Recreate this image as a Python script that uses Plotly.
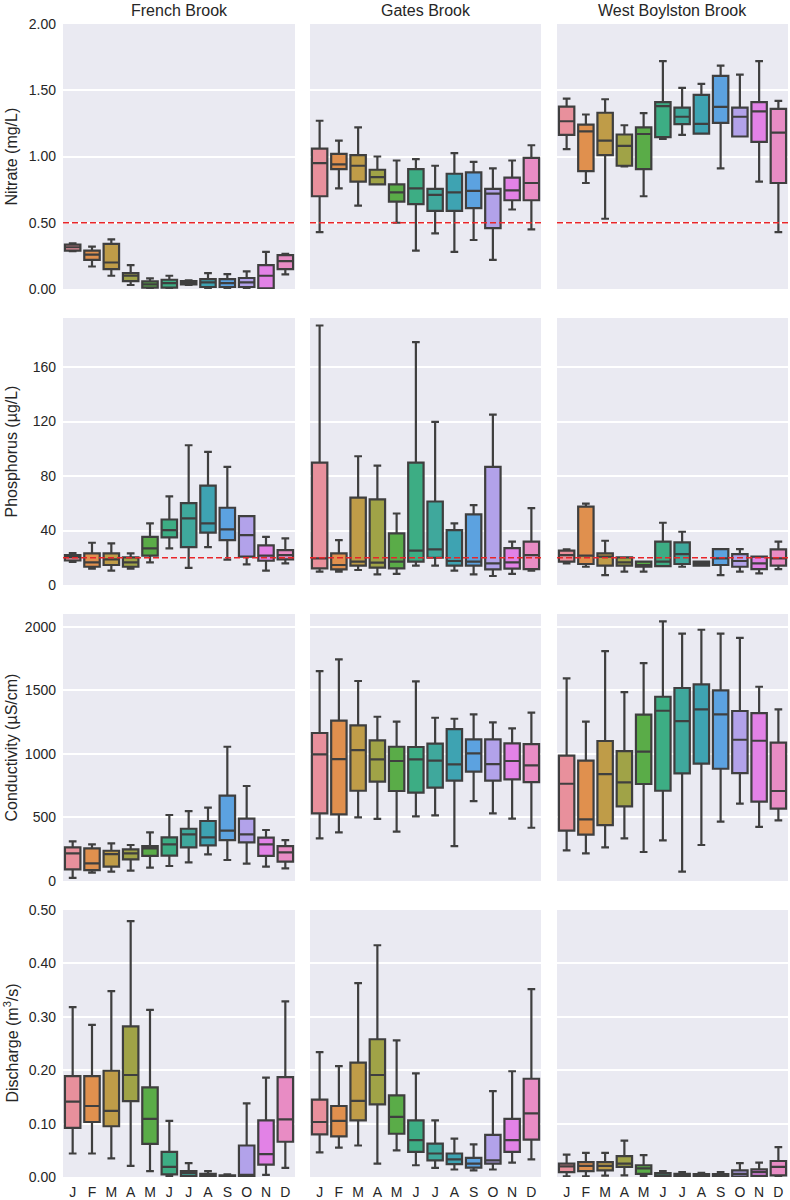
import plotly.graph_objects as go

months = ["J", "F", "M", "A", "M", "J", "J", "A", "S", "O", "N", "D"]
sites = ["French Brook", "Gates Brook", "West Boylston Brook"]
ytitles = ["Nitrate (mg/L)", "Phosphorus (µg/L)", "Conductivity (µS/cm)",
           "Discharge (m<sup>3</sup>/s)"]

# seaborn husl-ish month colours (desaturated)
palette = ["#e8909c", "#e0904e", "#bf9c48", "#a0a347", "#5aac48", "#3dad84",
           "#3fa89c", "#3ea3b2", "#5ca2e0", "#b2a2ea", "#e282e6", "#e88cc4"]

# ---- Nitrate (mg/L) ----
no3_fb_lo = [0.285, 0.17, 0.10, 0.03, 0.005, 0.005, 0.03, 0.008, 0.005, 0.008, 0.005, 0.11]
no3_fb_q1 = [0.29, 0.22, 0.15, 0.06, 0.01, 0.01, 0.035, 0.015, 0.015, 0.015, 0.005, 0.15]
no3_fb_md = [0.315, 0.26, 0.20, 0.10, 0.035, 0.045, 0.05, 0.05, 0.045, 0.05, 0.10, 0.21]
no3_fb_q3 = [0.335, 0.29, 0.34, 0.12, 0.058, 0.07, 0.06, 0.075, 0.075, 0.083, 0.18, 0.255]
no3_fb_hi = [0.345, 0.32, 0.375, 0.18, 0.08, 0.10, 0.065, 0.12, 0.113, 0.133, 0.28, 0.265]

no3_gb_lo = [0.43, 0.76, 0.63, 0.79, 0.50, 0.29, 0.42, 0.28, 0.37, 0.22, 0.60, 0.45]
no3_gb_q1 = [0.70, 0.905, 0.81, 0.79, 0.66, 0.64, 0.59, 0.59, 0.61, 0.46, 0.67, 0.67]
no3_gb_md = [0.95, 0.94, 0.93, 0.845, 0.73, 0.76, 0.71, 0.73, 0.74, 0.72, 0.745, 0.80]
no3_gb_q3 = [1.06, 1.02, 1.01, 0.90, 0.79, 0.905, 0.755, 0.87, 0.88, 0.755, 0.84, 0.99]
no3_gb_hi = [1.27, 1.12, 1.22, 1.00, 0.97, 0.98, 0.93, 1.025, 0.96, 0.91, 0.97, 1.085]

no3_wb_lo = [1.055, 0.80, 0.53, 0.925, 0.70, 1.133, 1.163, 1.173, 0.91, 1.151, 0.81, 0.43]
no3_wb_q1 = [1.163, 0.89, 1.01, 0.93, 0.905, 1.146, 1.244, 1.173, 1.254, 1.151, 1.11, 0.80]
no3_wb_md = [1.266, 1.19, 1.12, 1.08, 1.17, 1.38, 1.30, 1.246, 1.374, 1.30, 1.34, 1.18]
no3_wb_q3 = [1.377, 1.24, 1.33, 1.166, 1.22, 1.41, 1.369, 1.465, 1.608, 1.369, 1.41, 1.36]
no3_wb_hi = [1.437, 1.317, 1.432, 1.236, 1.327, 1.72, 1.518, 1.548, 1.686, 1.618, 1.72, 1.42]

# ---- Phosphorus (ug/L) ----
tp_fb_lo = [17, 12, 10.5, 12, 16.6, 26.9, 12.5, 27.8, 18.6, 15.1, 10.5, 15.9]
tp_fb_q1 = [18, 13.4, 14.7, 13.4, 21.5, 34.9, 27.8, 38.4, 33.0, 20.8, 17.8, 18.8]
tp_fb_md = [20.5, 16.6, 18.8, 16.6, 26.9, 40.3, 48.9, 45.2, 40.8, 36.6, 21.5, 22.0]
tp_fb_q3 = [22, 23.2, 23.2, 20.3, 35.4, 48.1, 60.1, 73.0, 56.7, 50.6, 29.1, 25.6]
tp_fb_hi = [23.5, 31, 30.5, 23.2, 45.2, 65, 102.6, 97.7, 86.7, 50.6, 35.4, 34.2]

tp_gb_lo = [9.8, 9.8, 11, 7.8, 8.1, 14.2, 14.2, 10.5, 7.8, 6.6, 8.1, 10.5]
tp_gb_q1 = [12.2, 11.5, 14.2, 12.7, 12.2, 17.1, 20.0, 14.2, 14.2, 11.5, 12.0, 11.7]
tp_gb_md = [19.5, 14.7, 17.1, 16.4, 17.1, 25.2, 26.1, 17.6, 17.1, 15.9, 16.6, 22.0]
tp_gb_q3 = [89.9, 23.2, 64.2, 62.8, 37.9, 89.9, 61.3, 40.3, 51.8, 86.7, 27.1, 31.8]
tp_gb_hi = [190.5, 33, 94.5, 87.7, 52.5, 178.3, 119.7, 45.2, 58.6, 125, 31.8, 56.4]

tp_wb_lo = [15.9, 13.4, 7.3, 9.8, 9.8, 13.9, 13.4, 14.2, 7.3, 9.8, 8.5, 11.7]
tp_wb_q1 = [17.1, 15.4, 14.2, 14.2, 13.4, 13.9, 15.4, 14.2, 14.7, 13.4, 11.7, 14.2]
tp_wb_md = [22.0, 21.5, 20.8, 16.6, 14.7, 17.1, 22.7, 15.9, 19.5, 17.6, 15.9, 19.5]
tp_wb_q3 = [25.2, 57.6, 23.2, 20.3, 17.1, 31.8, 31.3, 17.1, 26.4, 22.7, 20.8, 26.1]
tp_wb_hi = [26.1, 59.8, 32.5, 20.3, 17.1, 45.7, 39.1, 17.1, 26.4, 26.4, 20.8, 31.8]

# ---- Conductivity (uS/cm) ----
sc_fb_lo = [25, 66, 73, 81, 105, 118, 147, 210, 165, 136, 113, 100]
sc_fb_q1 = [92, 86, 113, 170, 197, 199, 265, 280, 322, 304, 197, 152]
sc_fb_md = [218, 139, 212, 218, 257, 288, 367, 343, 396, 367, 288, 225]
sc_fb_q3 = [265, 257, 238, 249, 275, 343, 411, 472, 671, 490, 341, 275]
sc_fb_hi = [312, 288, 296, 283, 383, 519, 550, 577, 1056, 747, 401, 322]

sc_gb_lo = [335, 383, 501, 488, 388, 508, 516, 275, 629, 532, 490, 419]
sc_gb_q1 = [532, 524, 710, 781, 708, 695, 734, 789, 860, 789, 799, 778]
sc_gb_md = [996, 959, 1030, 957, 944, 957, 946, 917, 1004, 920, 944, 910]
sc_gb_q3 = [1164, 1261, 1224, 1106, 1056, 1054, 1080, 1195, 1114, 1114, 1082, 1077]
sc_gb_hi = [1651, 1743, 1573, 1292, 1253, 1570, 1284, 1276, 1310, 1248, 1200, 1324]

sc_wb_lo = [241, 218, 265, 335, 228, 320, 73, 283, 467, 608, 425, 477]
sc_wb_q1 = [396, 364, 440, 587, 763, 710, 847, 923, 883, 849, 624, 569]
sc_wb_md = [765, 485, 841, 776, 1017, 1339, 1258, 1350, 1310, 1111, 1103, 708]
sc_wb_q3 = [986, 946, 1101, 1022, 1308, 1449, 1518, 1546, 1499, 1337, 1321, 1088]
sc_wb_hi = [1594, 1253, 1808, 1486, 1714, 2042, 1945, 1976, 1945, 1913, 1528, 1350]

# ---- Discharge (m3/s) ----
q_fb_lo = [0.044, 0.044, 0.035, 0.021, 0.011, 0.001, 0.001, 0.001, 0.0005, 0.001, 0.004, 0.017]
q_fb_q1 = [0.092, 0.103, 0.095, 0.142, 0.062, 0.005, 0.002, 0.001, 0.0005, 0.002, 0.023, 0.066]
q_fb_md = [0.141, 0.133, 0.124, 0.191, 0.109, 0.019, 0.0075, 0.003, 0.002, 0.004, 0.043, 0.108]
q_fb_q3 = [0.189, 0.189, 0.199, 0.282, 0.168, 0.047, 0.011, 0.006, 0.003, 0.059, 0.106, 0.187]
q_fb_hi = [0.318, 0.285, 0.348, 0.479, 0.313, 0.105, 0.026, 0.011, 0.005, 0.138, 0.186, 0.329]

q_gb_lo = [0.046, 0.055, 0.059, 0.025, 0.05, 0.022, 0.017, 0.014, 0.0125, 0.014, 0.027, 0.033]
q_gb_q1 = [0.080, 0.076, 0.106, 0.136, 0.081, 0.047, 0.031, 0.024, 0.0175, 0.025, 0.047, 0.07]
q_gb_md = [0.103, 0.105, 0.1425, 0.191, 0.1125, 0.069, 0.044, 0.033, 0.025, 0.031, 0.069, 0.119]
q_gb_q3 = [0.145, 0.133, 0.214, 0.258, 0.153, 0.106, 0.0625, 0.044, 0.036, 0.079, 0.109, 0.184]
q_gb_hi = [0.234, 0.2075, 0.363, 0.434, 0.256, 0.194, 0.106, 0.072, 0.061, 0.161, 0.198, 0.352]

q_wb_lo = [0.001, 0.001, 0.0025, 0.003, 0.002, 0.0005, 0.0005, 0.0005, 0.0005, 0.0005, 0.001, 0.001]
q_wb_q1 = [0.009, 0.011, 0.0125, 0.019, 0.006, 0.0006, 0.0006, 0.0006, 0.0006, 0.0006, 0.002, 0.003]
q_wb_md = [0.020, 0.021, 0.021, 0.025, 0.016, 0.003, 0.0025, 0.0025, 0.0025, 0.006, 0.009, 0.019]
q_wb_q3 = [0.025, 0.028, 0.028, 0.039, 0.022, 0.0075, 0.006, 0.0056, 0.0056, 0.0125, 0.0144, 0.030]
q_wb_hi = [0.042, 0.045, 0.045, 0.068, 0.041, 0.011, 0.009, 0.008, 0.009, 0.026, 0.027, 0.056]

panels = [
    [(no3_fb_lo, no3_fb_q1, no3_fb_md, no3_fb_q3, no3_fb_hi),
     (no3_gb_lo, no3_gb_q1, no3_gb_md, no3_gb_q3, no3_gb_hi),
     (no3_wb_lo, no3_wb_q1, no3_wb_md, no3_wb_q3, no3_wb_hi)],
    [(tp_fb_lo, tp_fb_q1, tp_fb_md, tp_fb_q3, tp_fb_hi),
     (tp_gb_lo, tp_gb_q1, tp_gb_md, tp_gb_q3, tp_gb_hi),
     (tp_wb_lo, tp_wb_q1, tp_wb_md, tp_wb_q3, tp_wb_hi)],
    [(sc_fb_lo, sc_fb_q1, sc_fb_md, sc_fb_q3, sc_fb_hi),
     (sc_gb_lo, sc_gb_q1, sc_gb_md, sc_gb_q3, sc_gb_hi),
     (sc_wb_lo, sc_wb_q1, sc_wb_md, sc_wb_q3, sc_wb_hi)],
    [(q_fb_lo, q_fb_q1, q_fb_md, q_fb_q3, q_fb_hi),
     (q_gb_lo, q_gb_q1, q_gb_md, q_gb_q3, q_gb_hi),
     (q_wb_lo, q_wb_q1, q_wb_md, q_wb_q3, q_wb_hi)],
]

y_ranges = [[0, 2.0], [0, 196], [0, 2100], [0, 0.5]]
y_ticks = [[0, 0.5, 1.0, 1.5, 2.0], [0, 40, 80, 120, 160],
           [0, 500, 1000, 1500, 2000], [0, 0.1, 0.2, 0.3, 0.4, 0.5]]
y_fmt = ["{:.2f}", "{:.0f}", "{:.0f}", "{:.2f}"]
thresholds = [0.5, 20, None, None]  # red dashed guide lines

W, H = 790, 1200
col_px = [(63, 295), (310, 541), (557, 788)]
row_px = [(24, 289), (318, 585), (614, 881), (910, 1177)]

font = "Liberation Sans, Arial, sans-serif"
txt = "#262626"


def fx(px):
    return px / W


def fy(px):
    return 1 - px / H


fig = go.Figure()
layout = {}
shapes = []
annotations = []

for r in range(4):
    for c in range(3):
        n = r * 3 + c + 1
        sfx = "" if n == 1 else str(n)
        lo, q1, md, q3, hi = panels[r][c]
        for i in range(12):
            fig.add_trace(go.Box(
                x=[i], lowerfence=[lo[i]], q1=[q1[i]], median=[md[i]],
                q3=[q3[i]], upperfence=[hi[i]],
                fillcolor=palette[i], line=dict(color="#3f3f3f", width=2.2),
                width=0.8, whiskerwidth=0.5, boxpoints=False,
                showlegend=False, hoverinfo="skip",
                xaxis="x" + sfx, yaxis="y" + sfx))

        x0, x1 = col_px[c]
        top, bot = row_px[r]
        layout["xaxis" + sfx] = dict(
            domain=[fx(x0), fx(x1)], anchor="y" + sfx, range=[-0.5, 11.5],
            showgrid=False, zeroline=False, showline=False, ticks="",
            tickvals=list(range(12)), ticktext=months,
            showticklabels=(r == 3), automargin=False,
            tickfont=dict(size=14, color=txt, family=font), ticklabelstandoff=5)
        layout["yaxis" + sfx] = dict(
            domain=[fy(bot), fy(top)], anchor="x" + sfx,
            range=y_ranges[r], showgrid=True, gridcolor="white", gridwidth=1.6,
            zeroline=False, showline=False, ticks="",
            tickvals=y_ticks[r], ticktext=[y_fmt[r].format(v) for v in y_ticks[r]],
            showticklabels=(c == 0), automargin=False,
            tickfont=dict(size=14, color=txt, family=font), ticklabelstandoff=6)

        if thresholds[r] is not None:
            shapes.append(dict(
                type="line", xref="x" + sfx + " domain", x0=0, x1=1,
                yref="y" + sfx, y0=thresholds[r], y1=thresholds[r],
                line=dict(color="#e8262a", width=1.5, dash="6px,3px"),
                layer="above"))

        # panel background
        shapes.append(dict(
            type="rect", xref="x" + sfx + " domain", yref="y" + sfx + " domain",
            x0=0, x1=1, y0=0, y1=1, fillcolor="#eaeaf2", line=dict(width=0),
            layer="below"))

for c, name in enumerate(sites):
    x0, x1 = col_px[c]
    annotations.append(dict(
        text=name, xref="paper", yref="paper", x=fx((x0 + x1) / 2),
        y=fy(11), xanchor="center", yanchor="middle", showarrow=False,
        font=dict(size=16, color=txt, family=font)))

for r, name in enumerate(ytitles):
    top, bot = row_px[r]
    annotations.append(dict(
        text=name, xref="paper", yref="paper", x=fx(11),
        y=fy((top + bot) / 2), xanchor="center", yanchor="middle",
        textangle=-90, showarrow=False,
        font=dict(size=16, color=txt, family=font)))

fig.update_layout(
    width=W, height=H, margin=dict(l=0, r=0, t=0, b=0),
    paper_bgcolor="white", plot_bgcolor="rgba(0,0,0,0)",
    boxmode="overlay", showlegend=False,
    shapes=shapes, annotations=annotations, **layout)

# drop the browser's default 8px body margin so the figure fills the window
fig.write_html("out.html", config={"displayModeBar": False},
               post_script="document.body.style.margin = '0';")
